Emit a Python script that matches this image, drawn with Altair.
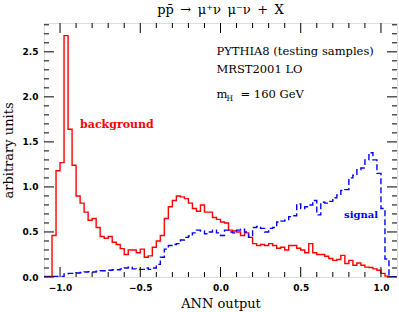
import altair as alt
import numpy as np
import pandas as pd

# ---- histogram data (bins of width 0.025 starting at -1.1) ----
BIN_START = -1.1
BIN_WIDTH = 0.025

background = [
    0.005, 0.005, 0.46, 1.18,   # -1.1 .. -1.0
    1.27, 2.68, 1.64, 1.24,     # -1.0 .. -0.9
    0.90, 0.82, 0.72, 0.63,     # -0.9 .. -0.8
    0.65, 0.55, 0.45, 0.43,     # -0.8 .. -0.7
    0.45, 0.385, 0.36, 0.315,   # -0.7 .. -0.6
    0.25, 0.30, 0.30, 0.27,     # -0.6 .. -0.5
    0.31, 0.22, 0.235, 0.33,    # -0.5 .. -0.4
    0.40, 0.46, 0.65, 0.78,     # -0.4 .. -0.3
    0.85, 0.90, 0.89, 0.87,     # -0.3 .. -0.2
    0.82, 0.76, 0.73, 0.80,     # -0.2 .. -0.1
    0.72, 0.72, 0.66, 0.64,     # -0.1 .. 0.0
    0.61, 0.60, 0.52, 0.51,     # 0.0 .. 0.1
    0.50, 0.46, 0.49, 0.44,     # 0.1 .. 0.2
    0.37, 0.35, 0.36, 0.35,     # 0.2 .. 0.3
    0.37, 0.35, 0.32, 0.33,     # 0.3 .. 0.4
    0.30, 0.35, 0.35, 0.32,     # 0.4 .. 0.5
    0.30, 0.27, 0.37, 0.27,     # 0.5 .. 0.6
    0.25, 0.25, 0.23, 0.205,    # 0.6 .. 0.7
    0.185, 0.195, 0.24, 0.15,   # 0.7 .. 0.8
    0.185, 0.13, 0.155, 0.13,   # 0.8 .. 0.9
    0.11, 0.105, 0.09, 0.075,   # 0.9 .. 1.0
    0.04, 0.01, 0.0, 0.0,       # 1.0 .. 1.1
]

signal = [
    0.0, 0.0, 0.005, 0.005,     # -1.1 .. -1.0
    0.005, 0.035, 0.04, 0.04,   # -1.0 .. -0.9
    0.045, 0.05, 0.055, 0.06,   # -0.9 .. -0.8
    0.055, 0.065, 0.07, 0.07,   # -0.8 .. -0.7
    0.075, 0.08, 0.08, 0.09,    # -0.7 .. -0.6
    0.10, 0.11, 0.09, 0.085,    # -0.6 .. -0.5
    0.085, 0.10, 0.085, 0.10,   # -0.5 .. -0.4
    0.14, 0.22, 0.31, 0.35,     # -0.4 .. -0.3
    0.36, 0.37, 0.41, 0.44,     # -0.3 .. -0.2
    0.455, 0.49, 0.52, 0.51,    # -0.2 .. -0.1
    0.48, 0.50, 0.52, 0.49,     # -0.1 .. 0.0
    0.46, 0.52, 0.50, 0.49,     # 0.0 .. 0.1
    0.52, 0.53, 0.50, 0.44,     # 0.1 .. 0.2
    0.55, 0.56, 0.54, 0.50,     # 0.2 .. 0.3
    0.54, 0.55, 0.61, 0.62,     # 0.3 .. 0.4
    0.63, 0.67, 0.68, 0.81,     # 0.4 .. 0.5
    0.76, 0.78, 0.80, 0.85,     # 0.5 .. 0.6
    0.69, 0.83, 0.82, 0.84,     # 0.6 .. 0.7
    0.88, 0.91, 0.96, 0.97,     # 0.7 .. 0.8
    1.10, 1.13, 1.19, 1.21,     # 0.8 .. 0.9
    1.30, 1.38, 1.30, 1.15,     # 0.9 .. 1.0
    0.76, 0.20, 0.0, 0.0,       # 1.0 .. 1.1
]

# ---- axes ----
x_domain = [-1.1, 1.1]
y_domain = [0.0, 2.82]
x_major = [-1.0, -0.5, 0.0, 0.5, 1.0]
x_minor = [-0.9, -0.8, -0.7, -0.6, -0.4, -0.3, -0.2, -0.1,
           0.1, 0.2, 0.3, 0.4, 0.6, 0.7, 0.8, 0.9]
y_major = [0.0, 0.5, 1.0, 1.5, 2.0, 2.5]
y_minor = [0.1, 0.2, 0.3, 0.4, 0.6, 0.7, 0.8, 0.9, 1.1, 1.2, 1.3, 1.4,
           1.6, 1.7, 1.8, 1.9, 2.1, 2.2, 2.3, 2.4, 2.6, 2.7, 2.8]

# ---- annotations ----
info_lines = ["PYTHIA8 (testing samples)", "MRST2001 LO"]
info_y = [2.46, 2.26]
info_x = -0.025
mass_parts = ["m", "H", "= 160 GeV"]
mass_x = [-0.025, 0.037, 0.125]
mass_y = [1.99, 1.95, 1.99]
mass_size = [11.5, 7.5, 11.5]
bg_label = ("background", -0.875, 1.65)
sig_label = ("signal", 0.77, 0.65)
title_text = "pp\u0304\u2002\u2192\u2002\u03bc\u207a\u03bd\u2002\u03bc\u207b\u03bd\u2002+\u2002X"

W, H = 353, 254
SERIF = "DejaVu Serif"

xs = alt.Scale(domain=x_domain, nice=False, zero=False)
ys = alt.Scale(domain=y_domain, nice=False, zero=False)
xaxis = alt.Axis(values=x_major, format=".1f", ticks=False, domain=False, grid=False,
                 labelFont="DejaVu Sans", labelFontWeight="bold", labelFontSize=9,
                 labelPadding=6, labelColor="black",
                 title="ANN output", titleFont=SERIF, titleFontSize=13,
                 titleFontWeight="normal", titleColor="black", titlePadding=5)
yaxis = alt.Axis(values=y_major, format=".1f", ticks=False, domain=False, grid=False,
                 labelFont="DejaVu Sans", labelFontWeight="bold", labelFontSize=9,
                 labelPadding=6, labelColor="black",
                 title="arbitrary units", titleFont=SERIF, titleFontSize=13,
                 titleFontWeight="normal", titleColor="black", titlePadding=7)
X = alt.X("x:Q", scale=xs, axis=xaxis)
Y = alt.Y("y:Q", scale=ys, axis=yaxis)


def step_frame(vals):
    edges = BIN_START + BIN_WIDTH * np.arange(len(vals) + 1)
    return pd.DataFrame({"x": edges, "y": list(vals) + [vals[-1]]})


bg_line = alt.Chart(step_frame(background)).mark_line(
    interpolate="step-after", color="#ff0000", strokeWidth=1.4, clip=True
).encode(x=X, y=Y)

sig_line = alt.Chart(step_frame(signal)).mark_line(
    interpolate="step-after", color="#0000ff", strokeWidth=1.4, strokeDash=[6, 3], clip=True
).encode(x=X, y=Y)


def xticks(vals, length):
    df = pd.DataFrame({"x": vals})
    b = alt.Chart(df).mark_rule(color="black", strokeWidth=1).encode(
        x=X, y=alt.value(H), y2=alt.value(H - length))
    t = alt.Chart(df).mark_rule(color="black", strokeWidth=1).encode(
        x=X, y=alt.value(0), y2=alt.value(length))
    return [b, t]


def yticks(vals, length):
    df = pd.DataFrame({"y": vals})
    l = alt.Chart(df).mark_rule(color="black", strokeWidth=1).encode(
        y=Y, x=alt.value(0), x2=alt.value(length))
    r = alt.Chart(df).mark_rule(color="black", strokeWidth=1).encode(
        y=Y, x=alt.value(W), x2=alt.value(W - length))
    return [l, r]


info = alt.Chart(pd.DataFrame({"x": [info_x] * len(info_lines), "y": info_y, "t": info_lines})).mark_text(
    align="left", baseline="alphabetic", font=SERIF, fontSize=11.5, color="black"
).encode(x=X, y=Y, text="t:N")

mass = alt.Chart(pd.DataFrame({"x": mass_x, "y": mass_y, "t": mass_parts, "s": mass_size})).mark_text(
    align="left", baseline="alphabetic", font=SERIF, color="black"
).encode(x=X, y=Y, text="t:N", size=alt.Size("s:Q", scale=None, legend=None))

bg_text = alt.Chart(pd.DataFrame({"x": [bg_label[1]], "y": [bg_label[2]], "t": [bg_label[0]]})).mark_text(
    align="left", baseline="alphabetic", font=SERIF, fontSize=11, fontWeight="bold", color="#ff0000"
).encode(x=X, y=Y, text="t:N")

sig_text = alt.Chart(pd.DataFrame({"x": [sig_label[1]], "y": [sig_label[2]], "t": [sig_label[0]]})).mark_text(
    align="left", baseline="alphabetic", font=SERIF, fontSize=10, fontWeight="bold", color="#0000ff"
).encode(x=X, y=Y, text="t:N")

layers = [bg_line, sig_line] + xticks(x_major, 10) + xticks(x_minor, 5) + \
    yticks(y_major, 10) + yticks(y_minor, 5) + [info, mass, bg_text, sig_text]

chart = alt.layer(*layers).properties(
    width=W, height=H,
    title=alt.Title(text=title_text, font=SERIF,
                    fontSize=13, fontWeight="normal", color="black", offset=6),
    autosize=alt.AutoSizeParams(type="none"),
    padding={"left": 44, "top": 23, "right": 2, "bottom": 35},
).configure_view(stroke="black", strokeWidth=1).configure(background="white")

chart.save("out.html", embed_options={"renderer": "svg", "actions": False})
